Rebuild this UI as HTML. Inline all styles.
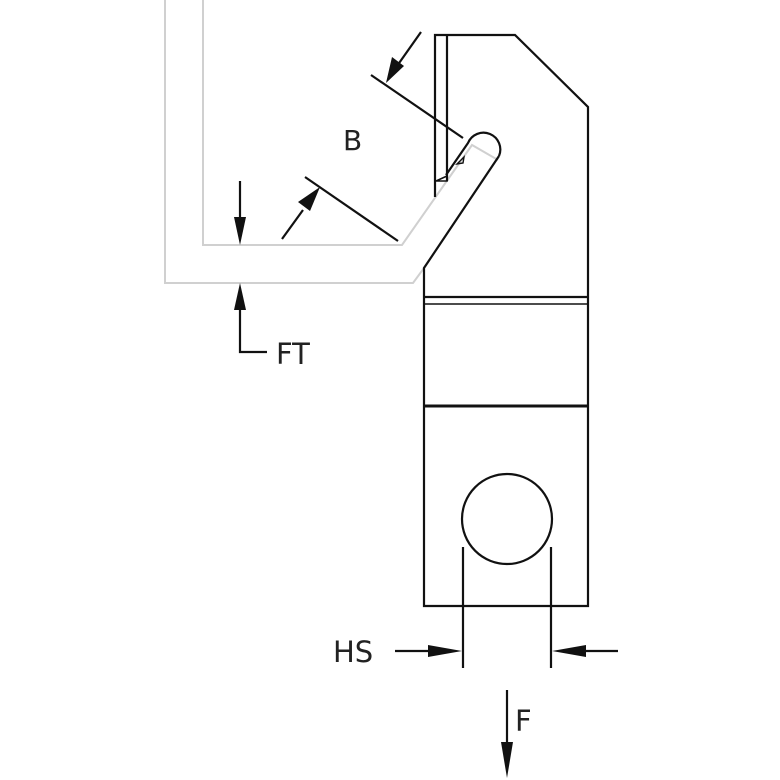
<!DOCTYPE html>
<html><head><style>html,body{margin:0;padding:0;background:#fff}svg{display:block}</style></head>
<body>
<svg width="780" height="780" viewBox="0 0 780 780" xmlns="http://www.w3.org/2000/svg">
<defs>
<marker id="ah" viewBox="0 0 10 10" refX="10" refY="5" markerWidth="5" markerHeight="7" markerUnits="userSpaceOnUse" orient="auto"></marker>
</defs>
<g fill="none" stroke="#d0d0d0" stroke-width="2">
<polyline points="165,0 165,283 413,283 424,268"/>
<polyline points="203,0 203,245 402,245 472,145 498,160"/>
</g>
<g fill="none" stroke="#111" stroke-width="2.2">
<polyline points="435,197 435,35 515,35 588,107 588,606 424,606 424,268 499,156"/>
<path d="M499,156 A16,16 0 0 0 468,143 L446,175"/>
<line x1="447" y1="35" x2="447" y2="181"/>
<polygon points="436,181 447,176 447,181" stroke-width="1.6"/>
<polygon points="457,164 464,157 463,163" stroke-width="1.4"/>
<line x1="424" y1="297" x2="588" y2="297"/>
<line x1="424" y1="304" x2="588" y2="304" stroke-width="1.5"/>
<line x1="424" y1="406" x2="588" y2="406" stroke-width="3"/>
<circle cx="507" cy="519" r="45"/>
<line x1="463" y1="547" x2="463" y2="668"/>
<line x1="551" y1="547" x2="551" y2="668"/>
<!-- B dims -->
<line x1="371" y1="75" x2="463" y2="138"/>
<line x1="421" y1="32" x2="397" y2="66"/>
<line x1="305" y1="177" x2="398" y2="241"/>
<line x1="282" y1="239" x2="303" y2="210"/>
<!-- FT -->
<line x1="240" y1="181" x2="240" y2="220"/>
<polyline points="240,305 240,352 267,352"/>
<!-- HS -->
<line x1="395" y1="651" x2="430" y2="651"/>
<line x1="583" y1="651" x2="618" y2="651"/>
<!-- F -->
<line x1="507" y1="690" x2="507" y2="745"/>
</g>
<g fill="#111">
<polygon points="386,83 392,57 404,66"/>
<polygon points="320,187 298,202 310,211"/>
<polygon points="240,245 234,217 246,217"/>
<polygon points="240,283 234,310 246,310"/>
<polygon points="462,651 428,645 428,657"/>
<polygon points="552,651 586,645 586,657"/>
<polygon points="507,778 501,742 513,742"/>
</g>
<g font-family="'DejaVu Sans','Liberation Sans',sans-serif" font-size="29" fill="#222">
<text x="343" y="150" font-size="28">B</text>
<text x="276" y="364">FT</text>
<text x="333" y="662">HS</text>
<text x="515" y="731">F</text>
</g>
</svg>
</body></html>
